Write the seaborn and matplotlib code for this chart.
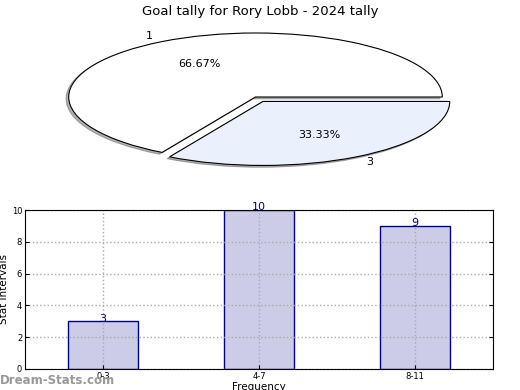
import matplotlib
matplotlib.use("Agg")
import matplotlib.pyplot as plt
import seaborn as sns

# pie data
pie_labels = ["1", "3"]
pie_values = [2, 1]
pie_colors = ["#ffffff", "#eaf0fc"]

# bar data
bar_cats = ["0-3", "4-7", "8-11"]
bar_vals = [3, 10, 9]

plt.rcParams["font.family"] = "DejaVu Sans"

fig = plt.figure(figsize=(5.2, 3.9), dpi=100)

# top: squashed pie
ax1 = fig.add_axes([22 / 520, 1 - 177 / 390, 467 / 520, 160 / 390])
wedges, texts, autotexts = ax1.pie(
    pie_values, labels=pie_labels, colors=pie_colors, autopct="%.2f%%",
    explode=[0, 0.08], shadow={"ox": -0.01, "oy": -0.02, "shade": 0.6},
    startangle=0, counterclock=True,
    wedgeprops={"edgecolor": "black", "linewidth": 0.8},
    textprops={"fontsize": 8},
)
ax1.set_aspect("auto")
ax1.set_xlim(-1.25, 1.25)
ax1.set_ylim(-1.25, 1.25)
fig.text(0.5, 1 - 11 / 390, "Goal tally for Rory Lobb - 2024 tally",
         ha="center", va="center", fontsize=9.5)

# bottom: bar chart
ax2 = fig.add_axes([25 / 520, 1 - 369 / 390, 468 / 520, 159 / 390])
sns.barplot(x=bar_cats, y=bar_vals, ax=ax2, color="#ccccE6",
            edgecolor="#00008b", linewidth=1, width=0.45, saturation=1)
ax2.set_xlim(-0.5, 2.5)
ax2.set_ylim(0, 10)
ax2.set_yticks([0, 2, 4, 6, 8, 10])
ax2.set_axisbelow(False)
ax2.grid(True, axis="both", linestyle=":", color="#aaaaaa", linewidth=1)
ax2.tick_params(direction="in", labelsize=6, length=3, right=True, top=False,
                pad=2)
for sp in ax2.spines.values():
    sp.set_linewidth(0.8)
    sp.set_zorder(5)
ax2.set_xlabel("Frequency", fontsize=7.5, labelpad=1)
ax2.set_ylabel("Stat Intervals", fontsize=7.5, labelpad=2)
for i, v in enumerate(bar_vals):
    ax2.text(i, v - 0.15, str(v), ha="center", va="bottom", fontsize=8,
             color="#00008b", zorder=6)

fig.text(0.0, 1 - 381 / 390, "Dream-Stats.com", ha="left", va="center",
         fontsize=8.5, color="#999999", fontweight="bold")

fig.savefig("out.png", dpi=100)
